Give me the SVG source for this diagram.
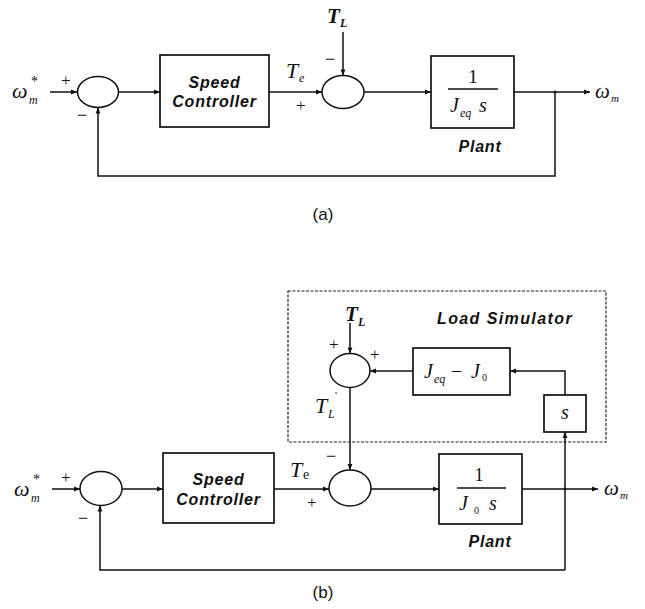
<svg xmlns="http://www.w3.org/2000/svg" width="645" height="609" viewBox="0 0 645 609">
<style>
.ln{stroke:#111;stroke-width:1.5;fill:none}
.bx{stroke:#111;stroke-width:1.7;fill:#fff}
.dash{stroke:#222;stroke-width:1.2;fill:none;stroke-dasharray:3 1.5}
.m{font-family:"Liberation Serif",serif;font-style:italic;fill:#111}
.b{font-family:"Liberation Sans",sans-serif;font-style:italic;font-weight:bold;fill:#111;font-size:16px;letter-spacing:0.8px}
.s{font-family:"Liberation Serif",serif;fill:#111}
.lab{font-family:"Liberation Sans",sans-serif;fill:#111;font-size:17px}
</style>
<defs>
<marker id="ar" viewBox="0 0 10 10" refX="10" refY="5" markerWidth="8" markerHeight="6" orient="auto" markerUnits="userSpaceOnUse">
<path d="M0,1 L10,5 L0,9 z" fill="#111"/>
</marker>
</defs>

<!-- (a) -->
<g id="a-input"><text class="m" x="12" y="98" font-size="22">ω</text><text class="m" x="29" y="104" font-size="12">m</text><text class="s" x="31" y="86" font-size="14">*</text></g>
<g id="a-sum1"><ellipse class="ln" cx="98" cy="92" rx="20.5" ry="15.5"/><text class="s" x="61" y="86" font-size="17">+</text><text class="s" x="77" y="121" font-size="18">−</text></g>
<g id="a-ctrl"><rect class="bx" x="160" y="55" width="109" height="72"/><text class="b" x="214.5" y="88" text-anchor="middle">Speed</text><text class="b" x="214.5" y="107" text-anchor="middle">Controller</text></g>
<g id="a-sum2"><ellipse class="ln" cx="343" cy="92" rx="21" ry="16.5"/><text class="s" x="296" y="111" font-size="17">+</text><text class="s" x="325" y="65" font-size="18">−</text></g>
<g id="a-te"><text class="m" x="286" y="78" font-size="22">T</text><text class="m" x="299" y="82" font-size="12">e</text></g>
<g id="a-tl"><text class="m" x="327" y="23" font-size="21" font-weight="bold">T</text><text class="m" x="340" y="27" font-size="12" font-weight="bold">L</text></g>
<g id="a-plant"><rect class="bx" x="431" y="56" width="83" height="72"/><text class="s" x="473" y="83" font-size="19" text-anchor="middle">1</text><line class="ln" x1="448" y1="89" x2="498" y2="89"/><text class="m" x="450" y="112" font-size="20">J</text><text class="m" x="460" y="117" font-size="12">eq</text><text class="m" x="479" y="112" font-size="20">s</text><text class="b" x="480" y="152" text-anchor="middle">Plant</text></g>
<g id="a-output"><text class="m" x="595" y="98" font-size="21">ω</text><text class="m" x="611" y="102" font-size="11">m</text></g>
<g id="a-connectors">
<line class="ln" x1="50" y1="92" x2="77" y2="92" marker-end="url(#ar)"/>
<line class="ln" x1="118.5" y1="92" x2="160" y2="92" marker-end="url(#ar)"/>
<line class="ln" x1="269" y1="92" x2="322" y2="92" marker-end="url(#ar)"/>
<line class="ln" x1="343" y1="32" x2="343" y2="75.5" marker-end="url(#ar)"/>
<line class="ln" x1="364" y1="92" x2="431" y2="92" marker-end="url(#ar)"/>
<line class="ln" x1="514" y1="92" x2="590" y2="92" marker-end="url(#ar)"/>
<polyline class="ln" points="555,92 555,176 98,176 98,107.5" marker-end="url(#ar)"/>
<circle cx="555" cy="92" r="1.5" fill="#111"/>
</g>
<text class="lab" x="323" y="220" text-anchor="middle">(a)</text>

<!-- (b) -->
<g id="b-loadsim"><rect class="dash" x="288" y="291" width="318" height="151"/><text class="b" x="505" y="324" text-anchor="middle" style="letter-spacing:1.4px">Load Simulator</text></g>
<g id="b-input"><text class="m" x="14" y="496" font-size="22">ω</text><text class="m" x="31" y="502" font-size="12">m</text><text class="s" x="33" y="484" font-size="14">*</text></g>
<g id="b-sum1"><ellipse class="ln" cx="101" cy="488.5" rx="21" ry="17"/><text class="s" x="61" y="483" font-size="17">+</text><text class="s" x="78" y="524" font-size="18">−</text></g>
<g id="b-ctrl"><rect class="bx" x="163" y="453" width="111" height="70"/><text class="b" x="218.5" y="485" text-anchor="middle">Speed</text><text class="b" x="218.5" y="505" text-anchor="middle">Controller</text></g>
<g id="b-te"><text class="m" x="290" y="477" font-size="22">T</text><text class="s" x="303" y="479" font-size="14">e</text><text class="s" x="307" y="508" font-size="17">+</text></g>
<g id="b-sum2"><ellipse class="ln" cx="350" cy="488" rx="21" ry="18"/><text class="s" x="326" y="462" font-size="18">−</text></g>
<g id="b-tl"><text class="m" x="345" y="321" font-size="21" font-weight="bold">T</text><text class="m" x="358" y="326" font-size="12" font-weight="bold">L</text></g>
<g id="b-sum3"><ellipse class="ln" cx="350" cy="370.5" rx="20" ry="17"/><text class="s" x="329" y="350" font-size="17">+</text><text class="s" x="370" y="360" font-size="17">+</text></g>
<g id="b-tlp"><text class="m" x="315" y="413" font-size="22">T</text><text class="m" x="328" y="418" font-size="12">L</text><text class="s" x="335" y="399" font-size="11">'</text></g>
<g id="b-jdiff"><rect class="bx" x="413" y="348" width="97" height="47"/><text class="m" x="424" y="378" font-size="20">J</text><text class="m" x="434" y="383" font-size="12">eq</text><text class="s" x="451" y="378" font-size="20">−</text><text class="m" x="471" y="378" font-size="20">J</text><text class="s" x="482" y="381" font-size="10">0</text></g>
<g id="b-s"><rect class="bx" x="544" y="395" width="42" height="37"/><text class="m" x="565" y="419" font-size="20" text-anchor="middle">s</text></g>
<g id="b-plant"><rect class="bx" x="439" y="454" width="83" height="70"/><text class="s" x="479" y="481" font-size="18" text-anchor="middle">1</text><line class="ln" x1="457" y1="488" x2="506" y2="488"/><text class="m" x="459" y="510" font-size="20">J</text><text class="s" x="474" y="514" font-size="10">0</text><text class="m" x="489" y="510" font-size="20">s</text><text class="b" x="490" y="547" text-anchor="middle">Plant</text></g>
<g id="b-output"><text class="m" x="604" y="495" font-size="21">ω</text><text class="m" x="620" y="499" font-size="11">m</text></g>
<g id="b-connectors">
<line class="ln" x1="52" y1="489" x2="80" y2="489" marker-end="url(#ar)"/>
<line class="ln" x1="122" y1="489" x2="163" y2="489" marker-end="url(#ar)"/>
<line class="ln" x1="274" y1="489" x2="329" y2="489" marker-end="url(#ar)"/>
<line class="ln" x1="371" y1="489" x2="439" y2="489" marker-end="url(#ar)"/>
<line class="ln" x1="522" y1="489" x2="598" y2="489" marker-end="url(#ar)"/>
<line class="ln" x1="350" y1="323" x2="350" y2="353.5" marker-end="url(#ar)"/>
<line class="ln" x1="350" y1="387.5" x2="350" y2="470" marker-end="url(#ar)"/>
<line class="ln" x1="413" y1="371" x2="370" y2="371" marker-end="url(#ar)"/>
<polyline class="ln" points="565,395 565,371 510,371" marker-end="url(#ar)"/>
<line class="ln" x1="565" y1="570" x2="565" y2="432" marker-end="url(#ar)"/>
<polyline class="ln" points="565,570 100,570 100,505.5" marker-end="url(#ar)"/>
<circle cx="565" cy="489" r="1.5" fill="#111"/>
</g>
<text class="lab" x="323" y="598" text-anchor="middle">(b)</text>
</svg>
